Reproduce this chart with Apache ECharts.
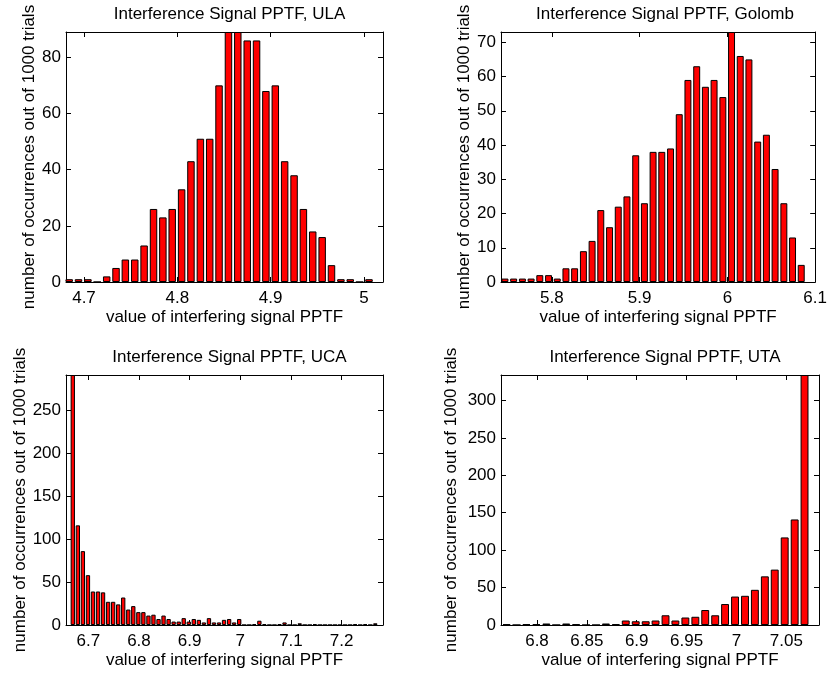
<!DOCTYPE html>
<html>
<head>
<meta charset="utf-8">
<script src="https://cdn.jsdelivr.net/npm/echarts@6/dist/echarts.min.js"></script>
<style>
  html, body { margin: 0; padding: 0; background: #fff; }
  #chart { width: 830px; height: 674px; }
</style>
</head>
<body>
<div id="chart"></div>
<script>
// Histogram bin centres and counts (1000 trials each)
const ulaCenters = [4.6841, 4.6941, 4.7042, 4.7142, 4.7243, 4.7343, 4.7443, 4.7544, 4.7644, 4.7745,
  4.7845, 4.7945, 4.8046, 4.8146, 4.8247, 4.8347, 4.8447, 4.8548, 4.8648, 4.8749,
  4.8849, 4.8949, 4.9050, 4.9150, 4.9251, 4.9351, 4.9451, 4.9552, 4.9652, 4.9753,
  4.9853, 4.9953, 5.0054];
const ulaCounts = [1, 1, 1, 0, 2, 5, 8, 8, 13, 26, 23, 26, 33, 43, 51, 51, 70, 89, 89, 86,
  86, 68, 70, 43, 38, 26, 18, 16, 6, 1, 1, 0, 1];

const golombCenters = [5.7465, 5.7564, 5.7664, 5.7763, 5.7862, 5.7962, 5.8061, 5.8160, 5.8259, 5.8359,
  5.8458, 5.8557, 5.8657, 5.8756, 5.8855, 5.8955, 5.9054, 5.9153, 5.9252, 5.9352,
  5.9451, 5.9550, 5.9650, 5.9749, 5.9848, 5.9948, 6.0047, 6.0146, 6.0245, 6.0345,
  6.0444, 6.0543, 6.0643, 6.0742, 6.0841];
const golombCounts = [1, 1, 1, 1, 2, 2, 1, 4, 4, 9, 12, 21, 16, 22, 25, 37, 23, 38, 38, 39,
  49, 59, 63, 57, 59, 54, 73, 66, 65, 41, 43, 33, 23, 13, 5];

const ucaCenters = [6.6694, 6.6794, 6.6893, 6.6993, 6.7092, 6.7192, 6.7291, 6.7391, 6.7490, 6.7590,
  6.7689, 6.7789, 6.7888, 6.7988, 6.8087, 6.8187, 6.8286, 6.8386, 6.8485, 6.8585,
  6.8684, 6.8784, 6.8883, 6.8983, 6.9082, 6.9182, 6.9281, 6.9381, 6.9480, 6.9580,
  6.9679, 6.9779, 6.9878, 6.9978, 7.0077, 7.0177, 7.0276, 7.0376, 7.0475, 7.0575,
  7.0674, 7.0774, 7.0873, 7.0973, 7.1072, 7.1172, 7.1271, 7.1371, 7.1470, 7.1570,
  7.1669, 7.1769, 7.1868, 7.1968, 7.2067, 7.2167, 7.2266, 7.2366, 7.2465, 7.2565,
  7.2664];
const ucaCounts = [291, 116, 86, 58, 39, 39, 38, 27, 27, 24, 32, 18, 22, 15, 15, 11, 12, 7, 11, 7,
  4, 4, 8, 4, 7, 6, 3, 8, 3, 3, 6, 7, 3, 7, 0, 0, 1, 5, 1, 0,
  0, 1, 3, 0, 0, 2, 0, 0, 1, 0, 0, 0, 0, 0, 0, 0, 1, 0, 1, 0,
  2];

const utaCenters = [6.7695, 6.7795, 6.7894, 6.7994, 6.8094, 6.8193, 6.8293, 6.8392, 6.8492, 6.8592,
  6.8691, 6.8791, 6.8890, 6.8990, 6.9090, 6.9189, 6.9289, 6.9388, 6.9488, 6.9588,
  6.9687, 6.9787, 6.9886, 6.9986, 7.0086, 7.0185, 7.0285, 7.0384, 7.0484, 7.0584,
  7.0683];
const utaCounts = [1, 0, 1, 1, 2, 0, 2, 1, 0, 0, 2, 1, 6, 5, 5, 6, 13, 6, 10, 11,
  20, 13, 28, 38, 39, 47, 65, 74, 117, 141, 334];

// Axis ticks
const ulaXTicks = [4.7, 4.8, 4.9, 5];
const golombXTicks = [5.8, 5.9, 6, 6.1];
const ucaXTicks = [6.7, 6.8, 6.9, 7, 7.1, 7.2];
const utaXTicks = [6.8, 6.85, 6.9, 6.95, 7, 7.05];

const titles = [
  'Interference Signal PPTF, ULA',
  'Interference Signal PPTF, Golomb',
  'Interference Signal PPTF, UCA',
  'Interference Signal PPTF, UTA'
];
const xLabel = 'value of interfering signal PPTF';
const yLabel = 'number of occurrences out of 1000 trials';

const FONT = '"Liberation Sans", Arial, Helvetica, sans-serif';
const FS = 17;

const panels = [
  { centers: ulaCenters, counts: ulaCounts, xTicks: ulaXTicks, xMin: 4.6807, xMax: 5.0204,
    yMax: 89, yStep: 20, grid: { left: 66, top: 32, width: 317, height: 250 }, yGap: 26, barW: '80%' },
  { centers: golombCenters, counts: golombCounts, xTicks: golombXTicks, xMin: 5.7420, xMax: 6.1,
    yMax: 73, yStep: 10, grid: { left: 501, top: 32, width: 318, height: 250 }, yGap: 26, barW: '80%' },
  { centers: ucaCenters, counts: ucaCounts, xTicks: ucaXTicks, xMin: 6.6560, xMax: 7.2816,
    yMax: 291, yStep: 50, grid: { left: 66, top: 375, width: 317, height: 250 }, yGap: 31, barW: '86%' },
  { centers: utaCenters, counts: utaCounts, xTicks: utaXTicks, xMin: 6.7639, xMax: 7.0828,
    yMax: 334, yStep: 50, grid: { left: 501, top: 375, width: 318, height: 250 }, yGap: 41, barW: '80%' }
];

const line = { show: true, onZero: false, lineStyle: { color: '#000', width: 1 } };
const tick = (vals) => ({ show: true, inside: true, length: 5, lineStyle: { color: '#000', width: 1 },
  customValues: vals });

const grids = [], xAxes = [], yAxes = [], series = [], titleList = [];

panels.forEach((p, i) => {
  grids.push(Object.assign({ containLabel: false }, p.grid));
  titleList.push({
    text: titles[i],
    left: p.grid.left + p.grid.width / 2,
    top: p.grid.top - 31,
    textAlign: 'center',
    textStyle: { fontFamily: FONT, fontSize: FS, fontWeight: 'normal', color: '#000' }
  });
  // bottom x axis
  xAxes.push({
    type: 'value', gridIndex: i, position: 'bottom', min: p.xMin, max: p.xMax,
    axisLine: line, splitLine: { show: false },
    axisTick: tick(p.xTicks),
    axisLabel: { customValues: p.xTicks, fontFamily: FONT, fontSize: FS, color: '#000', margin: 8 },
    name: xLabel, nameLocation: 'middle', nameGap: 27,
    nameTextStyle: { fontFamily: FONT, fontSize: FS, color: '#000' }
  });
  // left y axis
  yAxes.push({
    type: 'value', gridIndex: i, position: 'left', min: 0, max: p.yMax, interval: p.yStep,
    axisLine: line, splitLine: { show: false },
    axisTick: { show: true, inside: true, length: 5, lineStyle: { color: '#000', width: 1 } },
    axisLabel: { fontFamily: FONT, fontSize: FS, color: '#000', margin: 5, showMaxLabel: false },
    name: yLabel, nameLocation: 'middle', nameGap: p.yGap, nameRotate: 90,
    nameTextStyle: { fontFamily: FONT, fontSize: FS, color: '#000' }
  });
});

// mirrored box axes (top / right) with inward ticks
panels.forEach((p, i) => {
  xAxes.push({
    type: 'value', gridIndex: i, position: 'top', min: p.xMin, max: p.xMax,
    axisLine: line, splitLine: { show: false },
    axisTick: tick(p.xTicks), axisLabel: { show: false }
  });
  yAxes.push({
    type: 'value', gridIndex: i, position: 'right', min: 0, max: p.yMax, interval: p.yStep,
    axisLine: line, splitLine: { show: false },
    axisTick: { show: true, inside: true, length: 5, lineStyle: { color: '#000', width: 1 } },
    axisLabel: { show: false }
  });
});

panels.forEach((p, i) => {
  series.push({
    type: 'bar', xAxisIndex: i, yAxisIndex: i,
    data: p.centers.map((c, k) => [c, p.counts[k]]),
    barWidth: p.barW,
    itemStyle: { color: '#ff0000', borderColor: '#000', borderWidth: 1 },
    emphasis: { disabled: true },
    clip: true
  });
});

const chart = echarts.init(document.getElementById('chart'), null, { renderer: 'canvas' });
chart.setOption({
  animation: false,
  backgroundColor: '#fff',
  title: titleList,
  grid: grids,
  xAxis: xAxes,
  yAxis: yAxes,
  series: series
});
</script>
</body>
</html>
